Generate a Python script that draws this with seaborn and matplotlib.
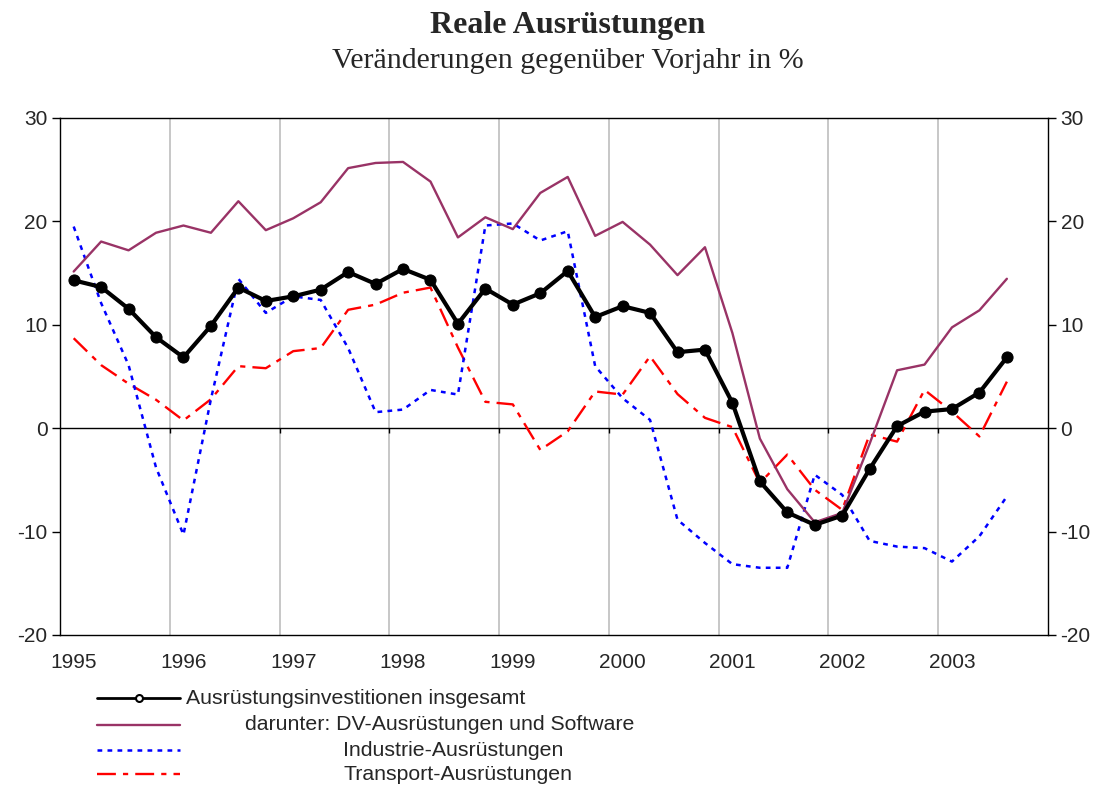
import numpy as np
import pandas as pd
import matplotlib.pyplot as plt
from matplotlib.lines import Line2D
import seaborn as sns

sns.set_style('white')
plt.rcParams['font.family'] = ['Liberation Sans', 'DejaVu Sans']
plt.rcParams['axes.unicode_minus'] = False

# quarterly values, 1995Q1 .. 2003Q3 (change vs. previous year in %)
years = ['1995', '1996', '1997', '1998', '1999', '2000', '2001', '2002', '2003']
total = [14.3, 13.65, 11.55, 8.8, 6.85, 9.9, 13.6, 12.3, 12.75, 13.4, 15.1, 13.95,
         15.4, 14.35, 10.1, 13.5, 11.95, 13.05, 15.2, 10.75, 11.8, 11.15, 7.35, 7.6,
         2.45, -5.15, -8.15, -9.35, -8.45, -3.95, 0.2, 1.6, 1.85, 3.45, 6.85]
dv = [15.15, 18.05, 17.2, 18.9, 19.6, 18.9, 21.95, 19.15, 20.3, 21.85, 25.15, 25.65,
      25.75, 23.85, 18.45, 20.4, 19.25, 22.75, 24.3, 18.6, 19.95, 17.75, 14.8, 17.5,
      9.2, -1.0, -5.9, -9.1, -8.2, -1.5, 5.6, 6.15, 9.75, 11.4, 14.45]
industrie = [19.5, 12.1, 6.1, -3.8, -10.3, 2.8, 14.45, 11.15, 12.75, 12.4, 7.75, 1.55,
             1.8, 3.7, 3.25, 19.6, 19.8, 18.15, 19.05, 6.0, 2.9, 0.8, -8.85, -11.1,
             -13.15, -13.5, -13.5, -4.5, -6.45, -10.9, -11.45, -11.6, -12.9, -10.45, -6.6]
transport = [8.7, 6.1, 4.3, 2.75, 0.75, 2.8, 6.0, 5.8, 7.45, 7.75, 11.45, 11.95,
             13.1, 13.6, 7.8, 2.55, 2.3, -2.1, -0.3, 3.55, 3.25, 6.95, 3.3, 1.0,
             0.1, -5.3, -2.55, -5.95, -7.9, -0.6, -1.3, 3.7, 1.6, -0.8, 4.5]

labels = ['Ausrüstungsinvestitionen insgesamt',
          'darunter: DV-Ausrüstungen und Software',
          'Industrie-Ausrüstungen',
          'Transport-Ausrüstungen']

df = pd.DataFrame({'q': np.arange(len(total)) + 0.5, 'total': total, 'dv': dv,
                   'industrie': industrie, 'transport': transport})

PURPLE = '#993366'
styles = {
    'total': dict(color='black', lw=3.0, marker='o', markersize=8,
                  markeredgecolor='black', markerfacecolor='black', zorder=5),
    'dv': dict(color=PURPLE, lw=1.7, zorder=4),
    'industrie': dict(color='#0000ff', lw=1.8, linestyle=(0, (1.9, 2.1)), zorder=3),
    'transport': dict(color='#ff0000', lw=1.7, linestyle=(0, (8.0, 3.0, 2.2, 3.0)), zorder=3),
}

fig = plt.figure(figsize=(10.98, 7.85), dpi=100)
ax = fig.add_axes([0.0546, 0.1911, 0.8999, 0.6586])

# year grid lines and zero line
ax.set_xticks(np.arange(4, 36, 4), minor=True)
ax.grid(which='minor', axis='x', color='#b8b8b8', lw=1.1)
ax.axhline(0, color='black', lw=1, zorder=2)
ax.vlines(np.arange(4, 36, 4), -0.5, 0, color='black', lw=1, zorder=2)

for key in ['transport', 'industrie', 'dv', 'total']:
    sns.lineplot(data=df, x='q', y=key, ax=ax, **styles[key])

ax.set_xlim(0, 36)
ax.set_ylim(-20, 30)
ax.set_yticks(range(-20, 31, 10))
ax.set_xticks(np.arange(0, 36, 4) + 0.5)
ax.set_xticklabels(years)
ax.set_xlabel('')
ax.set_ylabel('')
ax.tick_params(axis='x', which='both', length=0, pad=13, labelsize=15)
ax.tick_params(axis='y', length=6, width=1, color='black', direction='out',
               left=True, right=True, labelleft=True, labelright=True,
               labelsize=15, pad=3)
for s in ax.spines.values():
    s.set_color('black')
    s.set_linewidth(1)

# titles
fig.text(0.517, 0.967, 'Reale Ausrüstungen', ha='center', va='center',
         family='Liberation Serif', fontsize=23, fontweight='bold')
fig.text(0.517, 0.922, 'Veränderungen gegenüber Vorjahr in %', ha='center', va='center',
         family='Liberation Serif', fontsize=21.5)

# legend drawn like the original (left aligned swatches, staggered labels)
rows_y = [1 - 698 / 785, 1 - 725 / 785, 1 - 750 / 785, 1 - 774 / 785]
text_x = [186 / 1098, 245 / 1098, 343 / 1098, 343 / 1098]
x0, x1 = 97 / 1098, 180 / 1098
for key, ly, tx, lab in zip(['total', 'dv', 'industrie', 'transport'], rows_y, text_x, labels):
    st = dict(styles[key])
    st.pop('zorder')
    if key == 'total':
        st.update(lw=2.0, markersize=5, markerfacecolor='white', markeredgewidth=1.5,
                  markevery=[1])
        line = Line2D([x0, (x0 + x1) / 2, x1], [ly, ly, ly], transform=fig.transFigure, **st)
    else:
        line = Line2D([x0, x1], [ly, ly], transform=fig.transFigure, **st)
    fig.add_artist(line)
    fig.text(tx, ly, lab, ha='left', va='center', fontsize=15.3)

fig.savefig('out.png', dpi=100)
